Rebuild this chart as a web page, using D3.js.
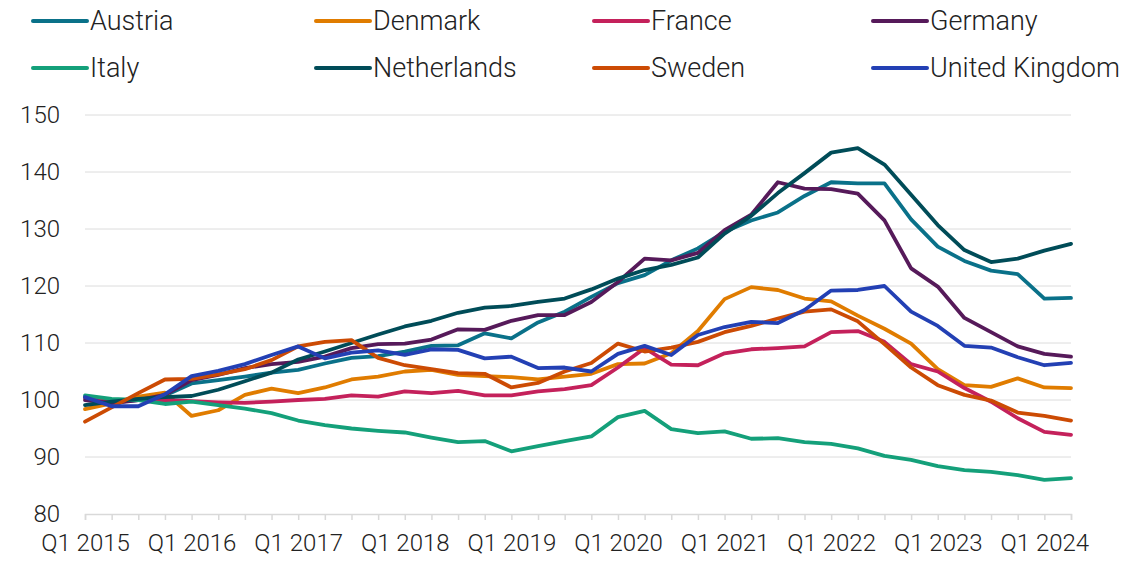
<!DOCTYPE html>
<html>
<head>
<meta charset="utf-8">
<script src="https://cdn.jsdelivr.net/npm/d3@7"></script>
<style>
  body { margin: 0; background: #fff; }
  svg text { font-family: Roboto, "Noto Sans", sans-serif; font-weight: 300; fill: #222; }
</style>
</head>
<body>
<div id="chart"></div>
<script>
var width = 1127,
    height = 561;

var quarters = [
  "Q1 2015","Q2 2015","Q3 2015","Q4 2015",
  "Q1 2016","Q2 2016","Q3 2016","Q4 2016",
  "Q1 2017","Q2 2017","Q3 2017","Q4 2017",
  "Q1 2018","Q2 2018","Q3 2018","Q4 2018",
  "Q1 2019","Q2 2019","Q3 2019","Q4 2019",
  "Q1 2020","Q2 2020","Q3 2020","Q4 2020",
  "Q1 2021","Q2 2021","Q3 2021","Q4 2021",
  "Q1 2022","Q2 2022","Q3 2022","Q4 2022",
  "Q1 2023","Q2 2023","Q3 2023","Q4 2023",
  "Q1 2024","Q2 2024"];

var yTicks = [80, 90, 100, 110, 120, 130, 140, 150];

var austria = [100.5, 99.6, 100.0, 100.8, 102.9, 103.5, 104.1, 104.8, 105.3, 106.4, 107.4, 107.7, 108.5, 109.5, 109.6, 111.7, 110.8, 113.6, 115.5, 118.1, 120.5, 121.9, 124.5, 126.6, 129.5, 131.5, 132.9, 135.8, 138.2, 138.0, 138.0, 131.7, 126.9, 124.4, 122.7, 122.1, 117.8, 117.9];
var denmark = [98.4, 99.4, 100.6, 101.3, 97.2, 98.2, 100.9, 102.0, 101.2, 102.2, 103.6, 104.1, 105.0, 105.3, 104.4, 104.2, 104.0, 103.6, 104.1, 104.6, 106.3, 106.4, 108.2, 112.1, 117.7, 119.8, 119.3, 117.8, 117.3, 114.8, 112.5, 109.9, 105.4, 102.6, 102.3, 103.8, 102.2, 102.1];
var france = [100.4, 100.0, 100.0, 100.0, 99.8, 99.6, 99.5, 99.7, 100.0, 100.2, 100.8, 100.6, 101.5, 101.2, 101.6, 100.8, 100.8, 101.5, 101.9, 102.6, 105.7, 109.1, 106.2, 106.1, 108.2, 108.9, 109.1, 109.4, 111.9, 112.1, 110.2, 106.3, 105.0, 102.1, 99.7, 96.8, 94.4, 93.9];
var germany = [100.0, 99.4, 100.0, 100.9, 103.5, 104.4, 105.6, 106.3, 106.7, 107.6, 109.1, 109.8, 109.9, 110.6, 112.4, 112.3, 113.9, 114.9, 114.9, 117.2, 120.7, 124.8, 124.5, 125.8, 129.8, 132.5, 138.2, 137.1, 137.0, 136.2, 131.5, 123.1, 119.9, 114.4, 111.9, 109.4, 108.1, 107.6];
var italy = [100.8, 100.2, 100.0, 99.3, 99.7, 99.1, 98.5, 97.7, 96.4, 95.6, 95.0, 94.6, 94.3, 93.4, 92.6, 92.8, 91.0, 91.9, 92.8, 93.6, 97.0, 98.1, 94.9, 94.2, 94.5, 93.2, 93.3, 92.6, 92.3, 91.5, 90.2, 89.5, 88.4, 87.7, 87.4, 86.8, 86.0, 86.3];
var netherlands = [99.1, 99.7, 100.2, 100.5, 100.7, 101.8, 103.3, 104.8, 107.1, 108.5, 110.0, 111.5, 112.9, 113.9, 115.3, 116.2, 116.5, 117.2, 117.8, 119.4, 121.3, 122.8, 123.7, 125.0, 129.2, 132.3, 136.3, 139.8, 143.4, 144.2, 141.3, 136.0, 130.7, 126.3, 124.2, 124.8, 126.2, 127.4];
var sweden = [96.2, 98.7, 101.2, 103.6, 103.7, 104.5, 105.4, 107.0, 109.4, 110.2, 110.5, 107.4, 106.1, 105.4, 104.7, 104.6, 102.2, 103.0, 105.0, 106.5, 109.9, 108.5, 109.2, 110.2, 111.9, 113.0, 114.3, 115.5, 115.9, 113.8, 109.8, 105.7, 102.6, 100.9, 99.9, 97.8, 97.2, 96.4];
var uk = [100.5, 98.9, 98.9, 101.0, 104.2, 105.1, 106.3, 107.9, 109.4, 107.3, 108.3, 108.7, 107.9, 108.9, 108.8, 107.3, 107.6, 105.6, 105.7, 105.0, 108.1, 109.5, 107.9, 111.4, 112.8, 113.7, 113.5, 115.8, 119.2, 119.3, 120.0, 115.5, 113.0, 109.5, 109.2, 107.5, 106.1, 106.5];

var countries = ["Austria", "Denmark", "France", "Germany", "Italy", "Netherlands", "Sweden", "United Kingdom"];
var colors = ["#0a7189", "#e07c00", "#c4215b", "#561a5a", "#14a07a", "#004c58", "#cc4b04", "#2340b4"];

var series = [
  {name: countries[0], values: austria, color: colors[0]},
  {name: countries[1], values: denmark, color: colors[1]},
  {name: countries[2], values: france, color: colors[2]},
  {name: countries[3], values: germany, color: colors[3]},
  {name: countries[4], values: italy, color: colors[4]},
  {name: countries[5], values: netherlands, color: colors[5]},
  {name: countries[6], values: sweden, color: colors[6]},
  {name: countries[7], values: uk, color: colors[7]}
];

var svg = d3.select("#chart")
    .append("svg")
    .attr("width", width)
    .attr("height", height);

var x = d3.scalePoint()
    .domain(quarters)
    .range([85, 1071]);

var y = d3.scaleLinear()
    .domain([80, 150])
    .range([514, 115]);

// gridlines
svg.append("g")
    .selectAll("line")
    .data(yTicks.slice(1))
    .enter()
    .append("line")
    .attr("x1", 85)
    .attr("x2", 1071)
    .attr("y1", function(d) { return y(d); })
    .attr("y2", function(d) { return y(d); })
    .attr("stroke", "#dcdcdc")
    .attr("stroke-width", 1);

// y labels
svg.append("g")
    .selectAll("text")
    .data(yTicks)
    .enter()
    .append("text")
    .attr("x", 60)
    .attr("y", function(d) { return y(d); })
    .attr("dy", "0.35em")
    .attr("text-anchor", "end")
    .style("font-size", "24px")
    .text(function(d) { return d; });

// x axis
var xAxis = d3.axisBottom(x)
    .tickSize(6)
    .tickPadding(14)
    .tickFormat(function(d, i) { return i % 4 === 0 ? d : ""; });

var gx = svg.append("g")
    .attr("transform", "translate(0," + y(80) + ")")
    .call(xAxis);

gx.select(".domain").attr("stroke", "#d9d9d9").attr("stroke-width", 1.5);
gx.selectAll(".tick line").attr("stroke", "#d9d9d9").attr("stroke-width", 1.5);
gx.selectAll(".tick text")
    .style("font-size", "24px")
    .style("font-family", "Roboto, sans-serif")
    .attr("fill", "#222");

// lines
var line = d3.line()
    .x(function(d, i) { return x(quarters[i]); })
    .y(function(d) { return y(d); });

svg.append("g")
    .selectAll("path")
    .data(series)
    .enter()
    .append("path")
    .attr("d", function(d) { return line(d.values); })
    .attr("fill", "none")
    .attr("stroke", function(d) { return d.color; })
    .attr("stroke-width", 3.8)
    .attr("stroke-linejoin", "round")
    .attr("stroke-linecap", "round");

// legend, 4 columns x 2 rows
var legendX = [33, 316, 594, 873];
var legendY = [21, 68];

var legend = svg.append("g")
    .selectAll("g")
    .data(series)
    .enter()
    .append("g")
    .attr("transform", function(d, i) {
      return "translate(" + legendX[i % 4] + "," + legendY[Math.floor(i / 4)] + ")";
    });

legend.append("line")
    .attr("x1", 0)
    .attr("x2", 54)
    .attr("stroke", function(d) { return d.color; })
    .attr("stroke-width", 4)
    .attr("stroke-linecap", "round");

legend.append("text")
    .attr("x", 57)
    .attr("dy", "0.35em")
    .style("font-size", "27px")
    .text(function(d) { return d.name; });
</script>
</body>
</html>
